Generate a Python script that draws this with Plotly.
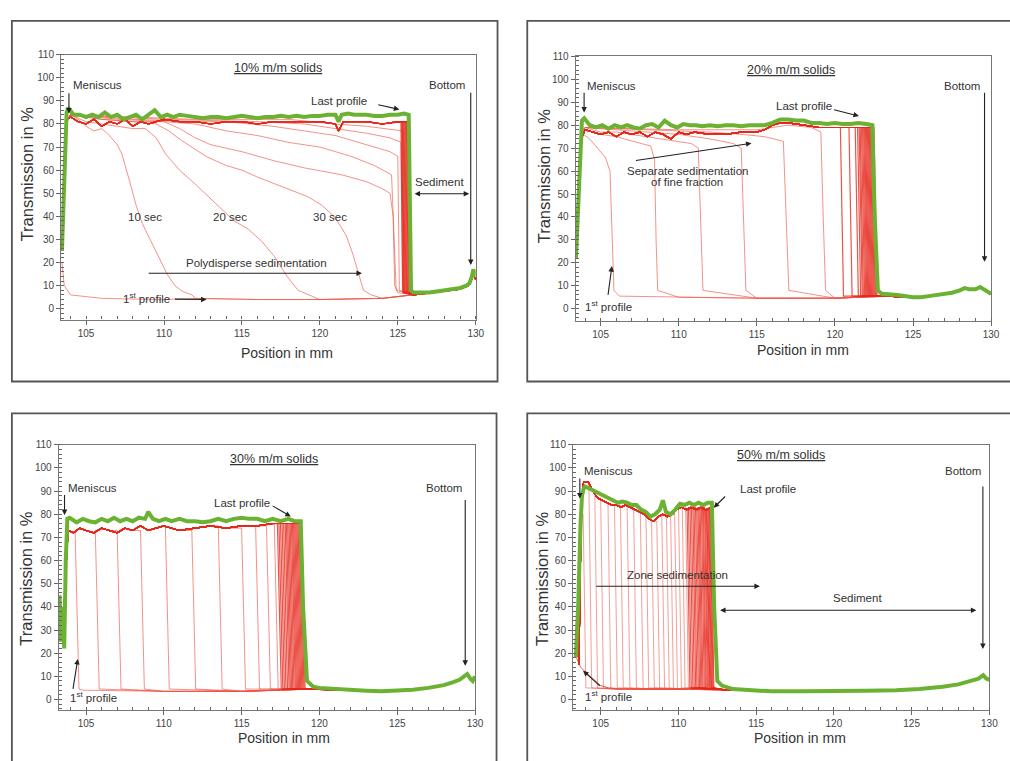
import plotly.graph_objects as go

W, H = 1010, 761

# ---------------- DATA ----------------
# Panel 1: 10% m/m solids (polydisperse sedimentation)
p1_last_x = [103.45, 103.55, 103.65, 103.75, 103.85, 104.2, 104.6, 105.0, 105.4, 105.8, 106.2, 106.6, 107.0, 107.4,
             107.8, 108.2, 108.6, 109.0, 109.4, 109.8, 110.2, 110.6, 111.0, 111.5, 112.0, 112.5, 113.0, 113.5, 114.0,
             114.5, 115.0, 115.5, 116.0, 116.5, 117.0, 117.5, 118.0, 118.5, 119.0, 119.5, 120.0, 120.5, 121.0, 121.2,
             121.4, 121.8, 122.2, 122.6, 123.0, 123.5, 124.0, 124.5, 125.0, 125.4, 125.7, 125.85, 126.0, 126.5, 127.0,
             127.5, 128.0, 128.5, 129.0, 129.4, 129.6, 129.75, 129.85, 130.0]
p1_last_y = [25, 45, 70, 85, 87, 84, 84, 83, 84, 83, 85, 83, 84, 82, 83, 84, 82, 84, 86, 83, 84, 83, 84, 83.5, 83, 82.5,
             83, 83, 82.5, 83, 83.5, 83, 82.5, 83, 83, 83.5, 83, 83.5, 83, 83.5, 83.5, 84, 84, 81, 84, 84.5, 84, 84, 84,
             83.5, 83.5, 84, 84, 84.5, 84, 8, 7, 7, 7, 7.5, 8, 8.5, 9, 10, 11, 14, 17, 14]
p1_plat_x = [103.45, 103.6, 103.75, 104.0, 104.5, 105.0, 105.5, 106.0, 106.5, 107.0, 107.5, 108.0, 108.5, 109.0, 109.5,
             110.0, 111.0, 112.0, 113.0, 114.0, 115.0, 116.0, 117.0, 118.0, 119.0, 120.0, 121.0, 121.2, 121.5, 122.0,
             123.0, 124.0, 125.0, 125.8]
p1_plat_y = [25, 60, 82, 83, 81, 80, 82, 79, 81, 80, 82, 79, 81, 80, 81, 82, 81, 81, 80, 81, 81, 80, 81, 81, 81, 81, 80,
             77, 81, 81, 81, 80, 81, 81]
p1_tail_x = [112.0, 116.0, 120.0, 124.0, 126.0, 127.0, 128.0, 129.0, 129.5, 129.7, 129.85, 130.0]
p1_tail_y = [4.5, 4.0, 4.0, 4.5, 6.0, 6.8, 7.5, 8.5, 10.0, 12.0, 15.0, 12.5]
p1_curves = [
    ([103.45, 103.6, 104.0, 106.0, 108.0, 110.0],
     [20, 10, 6, 4.5, 4.2, 4.0]),                                        # 1st profile
    ([103.45, 103.7, 104.0, 104.5, 105.0, 105.5, 106.0, 106.5, 107.0, 107.3, 107.8, 108.2, 108.6, 109.2, 109.7,
      110.2, 110.7, 111.2, 111.8],
     [25, 80, 84, 82, 79, 77, 78, 75, 71, 67, 55, 45, 37, 29, 22, 15, 10, 7.5, 6]),   # 10 sec
    ([103.45, 103.7, 104.0, 105.0, 106.0, 107.0, 108.0, 108.8, 109.5, 110.1, 111.0, 112.0, 112.8, 113.7, 114.5,
      115.4, 116.3, 117.1, 117.6, 117.9, 118.6, 119.3],
     [25, 80, 84, 81, 80, 79, 78, 78, 74, 67, 60, 54, 49, 43, 38, 34.5, 29, 22.5, 17, 14, 8, 6]),  # 20 sec
    ([103.45, 103.7, 104.0, 106.0, 108.0, 109.5, 110.3, 111.1, 112.0, 112.8, 114.0, 115.0, 116.0, 117.1, 118.2,
      119.2, 120.1, 120.9, 121.4, 121.7, 122.1, 122.4, 122.6, 122.8, 123.3],
     [25, 80, 84, 82, 81, 80, 77, 73, 69, 65.6, 62, 60, 57, 54, 51, 48.6, 45, 40, 35, 31.5, 24, 17, 12, 8, 6]),  # 30 sec
    ([103.45, 103.7, 104.0, 106.0, 108.0, 110.0, 111.0, 112.0, 113.0, 115.0, 117.1, 119.0, 121.4, 123.0, 124.0,
      124.5, 124.7, 124.8, 125.0],
     [25, 80, 84, 82, 81, 81, 78, 74, 71, 68, 64, 61, 58, 55, 52, 50, 40, 10, 7]),
    ([103.45, 103.7, 104.0, 107.0, 110.0, 112.0, 114.0, 116.0, 118.0, 120.0, 122.0, 123.5, 124.6, 124.8, 124.9],
     [25, 80, 84, 82, 81, 80, 77, 75, 72, 70, 66, 62, 58, 20, 8]),
    ([103.45, 103.7, 104.0, 108.0, 112.0, 114.0, 117.0, 119.0, 121.0, 123.0, 124.5, 125.0, 125.1],
     [25, 80, 84, 82, 81, 81, 79, 77, 75, 71, 68, 66, 8]),
    ([103.45, 103.7, 104.0, 110.0, 116.0, 119.0, 121.0, 123.0, 124.5, 125.2, 125.3],
     [25, 80, 84, 82, 81, 80, 78, 76, 74, 72, 8]),
    ([103.45, 103.7, 104.0, 112.0, 118.0, 121.0, 123.0, 125.3, 125.4],
     [25, 80, 84, 82, 82, 80, 79, 77, 8]),
]
p1_fronts = [125.2, 125.25, 125.3, 125.35, 125.4, 125.45, 125.5, 125.55, 125.6, 125.65, 125.7]

# Panel 2: 20% m/m solids
p2_last_x = [103.42, 103.5, 103.6, 103.7, 103.8, 103.95, 104.3, 104.7, 105.1, 105.5, 105.9, 106.3, 106.7, 107.1, 107.5,
             107.9, 108.3, 108.7, 109.1, 109.5, 109.9, 110.3, 110.7, 111.1, 111.5, 112.0, 112.5, 113.0, 113.5, 114.0,
             114.5, 115.0, 115.5, 116.0, 116.5, 117.0, 117.5, 118.0, 118.5, 119.0, 119.5, 120.0, 120.5, 121.0, 121.5,
             122.0, 122.4, 122.55, 122.75, 123.0, 124.0, 125.0, 125.5, 126.0, 126.5, 127.0, 127.5, 128.0, 128.3, 128.6,
             129.0, 129.3, 129.6, 130.0]
p2_last_y = [22, 35, 55, 75, 82, 83, 80, 79, 80, 78.5, 80, 79, 80, 79, 78.5, 80, 80.5, 79, 82, 80, 79, 80.5, 80, 80,
             79.5, 80, 79.5, 80, 80, 79.5, 80, 80, 80, 81, 82.5, 82.5, 82, 82, 81, 81, 80.5, 81, 80.5, 80.5, 81, 80.5, 80,
             40, 8, 6.5, 6, 5, 5, 5.5, 6, 6.5, 7, 8, 9, 8.5, 8.5, 9.5, 8, 6.5]
p2_plat_x = [103.45, 103.6, 103.75, 104.0, 104.5, 105.0, 105.5, 106.0, 106.5, 107.0, 107.5, 108.0, 108.5, 109.0, 109.5,
             110.0, 110.5, 111.0, 112.0, 113.0, 114.0, 115.0, 115.5, 116.0, 116.5, 117.0, 118.0, 119.0, 120.0, 121.0,
             122.0, 122.5]
p2_plat_y = [22, 45, 74, 78, 77, 76, 77, 75, 77, 76, 77, 75, 77, 76, 74, 77, 76, 77, 76, 76, 77, 77, 78, 80, 81, 81, 80,
             79, 79, 79, 79, 79]
p2_tail_x = [106.2, 110.0, 115.0, 120.0, 122.8, 123.5, 124.5, 125.5, 126.5, 127.5, 128.0, 128.3, 128.6, 129.0, 129.3,
             129.6, 130.0]
p2_tail_y = [5.5, 5.0, 4.6, 4.6, 5.5, 5.5, 5.0, 5.0, 5.8, 7.0, 8.0, 9.0, 8.5, 8.5, 9.5, 8.0, 6.5]
p2_curves = [
    ([103.45, 103.7, 103.9, 104.3, 104.8, 105.3, 105.6, 105.75, 105.85],
     [22, 70, 76, 74, 70, 66, 60, 30, 8]),                                  # 1st profile
    ([103.45, 103.75, 104.0, 105.0, 106.0, 106.5, 107.0, 107.6, 108.2, 108.45, 108.55, 108.65],
     [22, 75, 78, 76, 75, 74, 73, 72, 71, 65, 30, 8]),
    ([103.45, 103.75, 104.0, 105.0, 106.0, 107.0, 108.0, 109.0, 110.0, 110.8, 111.25, 111.4, 111.55],
     [22, 76, 79, 77, 77, 76, 75, 74, 73, 72, 70, 40, 8]),
    ([103.45, 103.75, 104.0, 106.0, 108.0, 110.0, 112.0, 113.5, 114.0, 114.15, 114.3],
     [22, 77, 79, 78, 77, 76, 74, 72, 70, 40, 8]),
    ([103.45, 103.75, 104.0, 108.0, 112.0, 114.0, 115.5, 116.7, 116.9, 117.05],
     [22, 77, 79, 78, 77, 76, 75, 73, 40, 8]),
    ([103.45, 103.75, 104.0, 110.0, 115.0, 117.0, 118.5, 119.1, 119.25, 119.4],
     [22, 77, 79, 78, 78, 80, 79, 77, 40, 8]),
]
p2_fronts = [120.35, 120.9, 121.3, 121.45, 121.55, 121.62, 121.7, 121.77, 121.84, 121.9, 121.96, 122.02, 122.08,
             122.14, 122.2, 122.26, 122.32, 122.38, 122.44, 122.5]

# Panel 3: 30% m/m solids
p3_last_x = [103.3, 103.4, 103.5, 103.6, 103.7, 103.8, 103.95, 104.4, 104.8, 105.2, 105.6, 106.0, 106.4, 106.8, 107.2,
             107.6, 108.0, 108.4, 108.8, 109.0, 109.3, 109.7, 110.1, 110.5, 111.0, 111.5, 112.0, 112.5, 113.0, 113.5,
             114.0, 114.5, 115.0, 115.5, 116.0, 116.5, 117.0, 117.5, 118.0, 118.4, 118.8, 118.95, 119.2, 119.6, 120.0,
             121.0, 122.0, 123.0, 124.0, 125.0, 126.0, 127.0, 128.0, 128.6, 129.0, 129.3, 129.5, 129.7, 129.85, 130.0]
p3_last_y = [45, 25, 40, 22, 60, 78, 78.5, 76.5, 78, 77, 76.5, 78, 77, 78.5, 77, 78, 77, 78.5, 78, 81, 78, 77, 78, 77,
             78, 77, 77, 76.5, 77, 78, 77, 78, 78.5, 78, 78, 77, 78, 77, 78, 77, 77, 40, 8, 5.5, 5, 4.5, 4, 3.8, 3.5,
             3.8, 4.2, 5, 6.2, 7.5, 8.5, 10, 11, 9, 8, 10]
p3_plat_x = [103.3, 103.5, 103.7, 103.85, 104.2, 104.6, 105.0, 105.5, 106.0, 106.5, 107.0, 107.5, 108.0, 108.5, 109.0,
             109.5, 110.0, 111.0, 112.0, 113.0, 114.0, 115.0, 116.0, 117.0, 118.0, 118.9]
p3_plat_y = [30, 25, 55, 73, 72, 74, 73, 72, 74, 73, 72, 74, 73, 75, 73, 74, 75, 73, 74, 75, 74, 75, 75, 76, 76, 76]
p3_tail_x = [104.8, 110.0, 115.0, 119.5, 121.0, 123.0, 124.0, 125.0, 126.0, 127.0, 128.0, 128.6, 129.0, 129.3, 129.5,
             129.7, 129.85, 130.0]
p3_tail_y = [4.0, 3.5, 3.5, 4.5, 4.2, 3.8, 3.5, 3.8, 4.2, 5.0, 6.2, 7.5, 8.5, 10.0, 11.0, 9.0, 8.0, 10.0]
p3_fronts = [104.3, 105.6, 107.0, 108.5, 110.1, 111.8, 113.5, 115.0, 115.9, 116.6, 117.1, 117.3, 117.4, 117.5, 117.6,
             117.7, 117.8, 117.88, 117.96, 118.04, 118.12, 118.2, 118.27, 118.34, 118.41, 118.48, 118.55, 118.62,
             118.69, 118.76, 118.83]

# Panel 4: 50% m/m solids (zone sedimentation)
p4_last_x = [103.4, 103.55, 103.7, 103.8, 103.9, 104.0, 104.3, 104.6, 104.9, 105.2, 105.5, 105.8, 106.1, 106.4, 106.7,
             107.0, 107.3, 107.6, 107.9, 108.2, 108.5, 108.8, 109.0, 109.2, 109.5, 109.8, 110.1, 110.4, 110.7, 111.0,
             111.3, 111.6, 111.9, 112.15, 112.3, 112.5, 112.8, 113.5, 114.5, 116.0, 118.0, 120.0, 122.0, 124.0, 125.5,
             127.0, 128.0, 128.8, 129.3, 129.6, 129.8, 130.0]
p4_last_y = [18, 40, 75, 88, 91, 92, 91, 90, 89, 88, 87, 86, 85, 85.5, 85, 84, 84, 82, 81, 79, 80, 82, 86, 81, 80, 82,
             84.5, 84, 85, 84, 85, 84, 85, 85, 40, 8, 6, 4.5, 4, 3.5, 3.5, 3.5, 3.8, 4, 4.5, 5.5, 6.5, 8, 9, 10.5, 9,
             8.5]
p4_plat_x = [103.4, 103.5, 103.6, 103.75, 103.9, 104.2, 104.5, 104.8, 105.1, 105.4, 105.7, 106.0, 106.3, 106.6, 106.9,
             107.2, 107.5, 107.8, 108.1, 108.4, 108.7, 109.0, 109.3, 109.6, 109.9, 110.2, 110.5, 110.8, 111.1, 111.4,
             111.7, 112.0, 112.2]
p4_plat_y = [20, 28, 15, 80, 94, 94, 90, 87, 86, 85, 84, 84, 83, 84, 83, 82, 81, 80, 78, 77, 79, 80, 79, 80, 82, 83, 82,
             83, 82, 83, 82, 83, 83]
p4_tail_x = [104.0, 106.0, 108.0, 110.0, 112.0, 113.0, 114.5, 116.0, 118.0, 120.0, 122.0, 124.0, 125.5, 127.0, 128.0,
             128.8, 129.3, 129.6, 129.8, 130.0]
p4_tail_y = [5.0, 4.5, 4.5, 4.5, 4.5, 4.2, 4.0, 3.5, 3.5, 3.5, 3.8, 4.0, 4.5, 5.5, 6.5, 8.0, 9.0, 10.5, 9.0, 8.5]
p4_first_x = [103.45, 103.7, 104.0, 104.5, 105.0, 105.5, 106.5]
p4_first_y = [18, 14, 12, 9, 6, 5, 4.5]
p4_fronts = [103.87, 104.24, 104.62, 105.0, 105.47, 105.89, 106.27, 106.7, 107.12, 107.55, 107.91, 108.27, 108.61,
             108.93, 109.23, 109.5, 109.76, 110.01, 110.25, 110.46, 110.56, 110.65, 110.75, 110.84, 110.93, 111.01,
             111.1, 111.18, 111.26, 111.33, 111.4, 111.48, 111.55, 111.61, 111.68, 111.74, 111.8, 111.84, 111.9,
             111.95, 112.0, 112.05, 112.1]

# axis ranges and tick labels
x_ranges = [[103.4, 130.0], [103.41, 130.0], [103.25, 130.0], [103.23, 130.0]]
y_ranges = [[-4.7, 110.0], [-5.3, 110.0], [-4.7, 110.0], [-4.7, 110.0]]
x_tick_vals = [105, 110, 115, 120, 125, 130]
y_tick_vals = [0, 10, 20, 30, 40, 50, 60, 70, 80, 90, 100, 110]
titles = ["10% m/m solids", "20% m/m solids", "30% m/m solids", "50% m/m solids"]

# ---------------- LAYOUT (pixels) ----------------
plot_px = [(61.7, 480.0, 50.0, 316.7), (581.0, 1000.0, 51.7, 318.0),
           (59.3, 479.3, 442.7, 710.0), (578.3, 998.3, 442.7, 710.0)]
frames_px = [(12, 502, 16, 379), (532, 1020, 16, 379), (12, 501, 411, 775), (532, 1020, 411, 775)]

RED = 'rgba(230,40,28,0.8)'
RED_LIGHT = 'rgba(238,80,66,0.7)'
GREEN = 'rgb(108,178,50)'
TXT = '#333333'
FONT = 'Liberation Sans, Arial, sans-serif'

fig = go.Figure()


def ax_names(i):
    return ('x', 'y') if i == 1 else ('x%d' % i, 'y%d' % i)


def add_line(i, xs, ys, color, width):
    xa, ya = ax_names(i)
    fig.add_trace(go.Scatter(x=xs, y=ys, mode='lines', line=dict(color=color, width=width),
                             xaxis=xa, yaxis=ya, hoverinfo='skip', showlegend=False))


def with_tail(xs, ys, tx, ty):
    xs, ys = list(xs), list(ys)
    for x, y in zip(tx, ty):
        if x > xs[-1]:
            xs.append(x)
            ys.append(y)
    return xs, ys


def front_profile(px, py, front, drop, low, tx, ty):
    xs = [x for x in px if x < front]
    ys = list(py[:len(xs)])
    xs += [front, front + drop]
    ys += [ys[-1], low]
    return with_tail(xs, ys, tx, ty)


# Panel 1
for cx, cy in p1_curves:
    add_line(1, *with_tail(cx, cy, p1_tail_x, p1_tail_y), RED_LIGHT, 0.9)
for f in p1_fronts:
    add_line(1, *front_profile(p1_plat_x, p1_plat_y, f, 0.12, 7, p1_tail_x, p1_tail_y), RED, 1.2)
add_line(1, p1_last_x, p1_last_y, GREEN, 4)

# Panel 2
for cx, cy in p2_curves:
    add_line(2, *with_tail(cx, cy, p2_tail_x, p2_tail_y), RED_LIGHT, 0.9)
for f in p2_fronts:
    add_line(2, *front_profile(p2_plat_x, p2_plat_y, f, 0.2, 5.5, p2_tail_x, p2_tail_y), RED, 1.2)
add_line(2, p2_last_x, p2_last_y, GREEN, 4)

# Panel 3
for k, f in enumerate(p3_fronts):
    add_line(3, *front_profile(p3_plat_x, p3_plat_y, f, 0.25, 4.5, p3_tail_x, p3_tail_y),
             RED_LIGHT if k < 11 else RED, 0.9 if k < 11 else 1.2)
add_line(3, p3_last_x, p3_last_y, GREEN, 4)

# Panel 4
add_line(4, *with_tail(p4_first_x, p4_first_y, p4_tail_x, p4_tail_y), RED, 1.0)
for k, f in enumerate(p4_fronts):
    add_line(4, *front_profile(p4_plat_x, p4_plat_y, f, 0.18, 5, p4_tail_x, p4_tail_y),
             RED_LIGHT if k < 20 else RED, 0.8 if k < 20 else 1.1)
add_line(4, p4_last_x, p4_last_y, GREEN, 4)

# axes
layout_axes = {}
for i in range(1, 5):
    x0, x1, yt, yb = plot_px[i - 1]
    xa = 'xaxis' if i == 1 else 'xaxis%d' % i
    ya = 'yaxis' if i == 1 else 'yaxis%d' % i
    xn, yn = ax_names(i)
    common = dict(showline=True, linecolor='#777777', linewidth=1.3, mirror=True, showgrid=False, zeroline=False,
                  ticks='outside', ticklen=4, tickwidth=1, tickcolor='#666666',
                  tickfont=dict(family=FONT, size=10, color='#444444'))
    layout_axes[xa] = dict(common, domain=[x0 / W, x1 / W], anchor=yn, range=x_ranges[i - 1],
                           tickvals=x_tick_vals, ticktext=[str(v) for v in x_tick_vals],
                           minor=dict(dtick=1, ticks='inside', ticklen=3, tickcolor='#666666', showgrid=False))
    layout_axes[ya] = dict(common, domain=[1 - yb / H, 1 - yt / H], anchor=xn, range=y_ranges[i - 1],
                           tickvals=y_tick_vals, ticktext=[str(v) for v in y_tick_vals],
                           minor=dict(dtick=2, ticks='inside', ticklen=3, tickcolor='#666666', showgrid=False))

fig.update_layout(width=W, height=H, margin=dict(l=0, r=0, t=0, b=0), paper_bgcolor='white',
                  plot_bgcolor='white', showlegend=False, **layout_axes)

# frames
for (fx0, fx1, fy0, fy1) in frames_px:
    fig.add_shape(type='rect', xref='paper', yref='paper', x0=fx0 / W, x1=fx1 / W, y0=1 - fy1 / H, y1=1 - fy0 / H,
                  line=dict(color='#555555', width=1.8), fillcolor='rgba(0,0,0,0)', layer='below')

# axis titles (pixel positions)
y_title_px = [(26.7, 170), (548.3, 172), (26.7, 577), (546.7, 577)]
x_title_px = [(290, 350), (810, 347), (287, 738), (807, 738)]
for (tx, ty) in y_title_px:
    fig.add_annotation(x=tx / W, y=1 - ty / H, xref='paper', yref='paper', text='Transmission in %', showarrow=False,
                       xanchor='center', yanchor='middle', textangle=-90,
                       font=dict(family=FONT, size=16.5, color=TXT))
for (tx, ty) in x_title_px:
    fig.add_annotation(x=tx / W, y=1 - ty / H, xref='paper', yref='paper', text='Position in mm', showarrow=False,
                       xanchor='center', yanchor='middle', font=dict(family=FONT, size=14, color=TXT))


def txt(i, x, y, text, size=11.5, xanchor='center'):
    xn, yn = ax_names(i)
    fig.add_annotation(x=x, y=y, xref=xn, yref=yn, text=text, showarrow=False, xanchor=xanchor, yanchor='middle',
                       font=dict(family=FONT, size=size, color=TXT))


def arrow(i, x0, y0, x1, y1, both=False, head=2):
    xn, yn = ax_names(i)
    fig.add_annotation(x=x1, y=y1, ax=x0, ay=y0, xref=xn, yref=yn, axref=xn, ayref=yn, text='', showarrow=True,
                       arrowhead=head, startarrowhead=head, arrowsize=1, startarrowsize=1, arrowwidth=1.1,
                       arrowcolor='#222222', arrowside='end+start' if both else 'end', standoff=0, startstandoff=0)


title_pos = [(117.3, 104.2), (117.2, 104.2), (117.1, 104.0), (116.6, 105.4)]
for i in range(1, 5):
    txt(i, title_pos[i - 1][0], title_pos[i - 1][1], '<u>' + titles[i - 1] + '</u>', size=12.5)

# Panel 1 annotations
txt(1, 104.05, 97, 'Meniscus', xanchor='left')
arrow(1, 103.9, 94, 103.9, 84.5)
txt(1, 121.2, 89.9, 'Last profile')
arrow(1, 123.65, 88.5, 125.1, 86.3)
txt(1, 128.15, 97, 'Bottom')
arrow(1, 129.68, 94.2, 129.68, 18.9)
txt(1, 127.65, 54.8, 'Sediment')
arrow(1, 125.98, 49.8, 129.58, 49.8, both=True)
txt(1, 108.8, 39.7, '10 sec')
txt(1, 114.24, 39.7, '20 sec')
txt(1, 120.66, 39.7, '30 sec')
txt(1, 115.95, 19.6, 'Polydisperse sedimentation')
arrow(1, 108.92, 15.35, 122.7, 15.35)
txt(1, 110.5, 4.6, '1<sup>st</sup> profile', xanchor='right')
arrow(1, 110.6, 4.2, 112.73, 4.0)

# Panel 2 annotations
txt(2, 103.98, 97, 'Meniscus', xanchor='left')
arrow(2, 103.94, 94.8, 103.94, 85.5)
txt(2, 118.0, 88.4, 'Last profile')
arrow(2, 119.85, 86.9, 121.54, 84.0)
txt(2, 128.14, 97, 'Bottom')
arrow(2, 129.58, 94.8, 129.58, 20.5)
txt(2, 110.54, 60.2, 'Separate sedimentation')
txt(2, 110.54, 55.2, 'of fine fraction')
arrow(2, 107.16, 64.5, 114.66, 72.1)
txt(2, 103.86, 1.0, '1<sup>st</sup> profile', xanchor='left')
arrow(2, 105.46, 5.4, 105.72, 18.6)

# Panel 3 annotations
txt(3, 103.73, 91.4, 'Meniscus', xanchor='left')
arrow(3, 103.62, 89, 103.62, 79.7)
txt(3, 115.02, 84.7, 'Last profile')
arrow(3, 116.9, 84.0, 118.16, 79.0)
txt(3, 128.03, 91.4, 'Bottom')
arrow(3, 129.37, 86.8, 129.37, 14.6)
txt(3, 103.83, 1.0, '1<sup>st</sup> profile', xanchor='left')
arrow(3, 104.15, 3.9, 104.47, 17.5)

# Panel 4 annotations
txt(4, 103.77, 98.6, 'Meniscus', xanchor='left')
arrow(4, 103.66, 96.1, 103.66, 86.8)
txt(4, 113.86, 91.1, 'Last profile', xanchor='left')
arrow(4, 113.1, 88.3, 112.27, 82.8)
txt(4, 128.3, 98.6, 'Bottom')
arrow(4, 129.58, 92.6, 129.58, 21.8)
txt(4, 109.93, 53.9, 'Zone sedimentation')
arrow(4, 104.62, 48.9, 115.24, 48.9)
txt(4, 121.5, 43.9, 'Sediment')
arrow(4, 112.58, 38.5, 129.16, 38.5, both=True)
txt(4, 103.87, 1.7, '1<sup>st</sup> profile', xanchor='left')
arrow(4, 105.04, 5.3, 103.87, 12.4)

# remove the browser's default 8px page margin so the figure sits at the window origin; hide the modebar
fig.write_html("out.html", config={'displayModeBar': False},
               post_script="document.body.style.margin='0px';document.body.style.overflow='hidden';")
